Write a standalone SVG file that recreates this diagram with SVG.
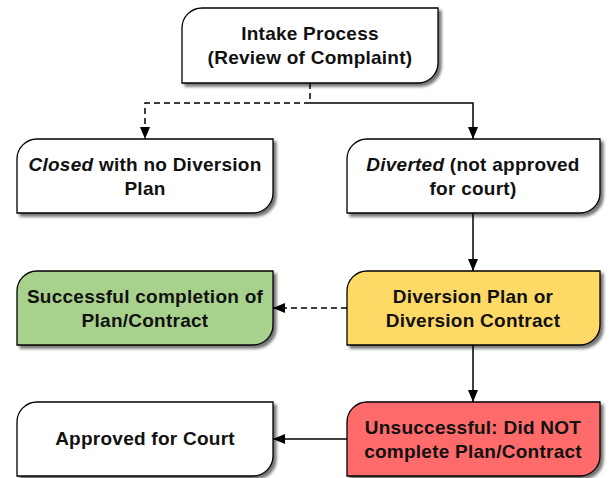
<svg xmlns="http://www.w3.org/2000/svg" width="610" height="478" viewBox="0 0 610 478">
<defs>
<filter id="sh" x="-10%" y="-10%" width="130%" height="140%">
<feGaussianBlur in="SourceAlpha" stdDeviation="1.5"/>
<feOffset dx="3" dy="3" result="b"/>
<feComponentTransfer><feFuncA type="linear" slope="0.55"/></feComponentTransfer>
<feMerge><feMergeNode/><feMergeNode in="SourceGraphic"/></feMerge>
</filter>
<marker id="ah" viewBox="0 0 12 12" refX="12" refY="6" markerWidth="12" markerHeight="12" markerUnits="userSpaceOnUse" orient="auto">
<path d="M0,1 L12,6 L0,11 Z" fill="#000"/>
</marker>
</defs>
<style>
.box{stroke:#000;stroke-width:1.3;filter:url(#sh)}
.t{font-family:"Liberation Sans",Arial,sans-serif;font-weight:bold;font-size:19px;letter-spacing:0.25px;fill:#111;text-anchor:middle}
.c{fill:none;stroke:#000;stroke-width:1.5}
.d{stroke-dasharray:6,4}
</style>
<g id="connectors">
<path class="c d" d="M310,83 V103 H145 V139" marker-end="url(#ah)"/>
<path class="c" d="M310,103 H473 V139" marker-end="url(#ah)"/>
<path class="c" d="M473,213 V271" marker-end="url(#ah)"/>
<path class="c d" d="M347,308 H273" marker-end="url(#ah)"/>
<path class="c" d="M473,345 V402" marker-end="url(#ah)"/>
<path class="c" d="M347,439 H273" marker-end="url(#ah)"/>
</g>
<g id="intake">
<path class="box" fill="#fff" d="M202,8 H438 V63 A20,20 0 0 1 418,83 H182 V28 A20,20 0 0 1 202,8 Z"/>
<text class="t" x="310" y="40">Intake Process</text>
<text class="t" x="310" y="64">(Review of Complaint)</text>
</g>
<g id="closed">
<path class="box" fill="#fff" d="M37,139 H273 V193 A20,20 0 0 1 253,213 H17 V159 A20,20 0 0 1 37,139 Z"/>
<text class="t" x="145" y="171"><tspan font-style="italic">Closed</tspan> with no Diversion</text>
<text class="t" x="145" y="195">Plan</text>
</g>
<g id="diverted">
<path class="box" fill="#fff" d="M367,139 H600 V193 A20,20 0 0 1 580,213 H347 V159 A20,20 0 0 1 367,139 Z"/>
<text class="t" x="473" y="171"><tspan font-style="italic">Diverted</tspan> (not approved</text>
<text class="t" x="473" y="195">for court)</text>
</g>
<g id="successful">
<path class="box" fill="#A9D18E" d="M37,271 H273 V325 A20,20 0 0 1 253,345 H17 V291 A20,20 0 0 1 37,271 Z"/>
<text class="t" x="145" y="303">Successful completion of</text>
<text class="t" x="145" y="327">Plan/Contract</text>
</g>
<g id="plan">
<path class="box" fill="#FFD966" d="M367,271 H600 V325 A20,20 0 0 1 580,345 H347 V291 A20,20 0 0 1 367,271 Z"/>
<text class="t" x="473" y="303">Diversion Plan or</text>
<text class="t" x="473" y="327">Diversion Contract</text>
</g>
<g id="court">
<path class="box" fill="#fff" d="M37,402 H273 V456 A20,20 0 0 1 253,476 H17 V422 A20,20 0 0 1 37,402 Z"/>
<text class="t" x="145" y="445">Approved for Court</text>
</g>
<g id="unsuccessful">
<path class="box" fill="#FF6B6B" d="M367,402 H600 V456 A20,20 0 0 1 580,476 H347 V422 A20,20 0 0 1 367,402 Z"/>
<text class="t" x="473" y="434">Unsuccessful: Did NOT</text>
<text class="t" x="473" y="458">complete Plan/Contract</text>
</g>
</svg>
